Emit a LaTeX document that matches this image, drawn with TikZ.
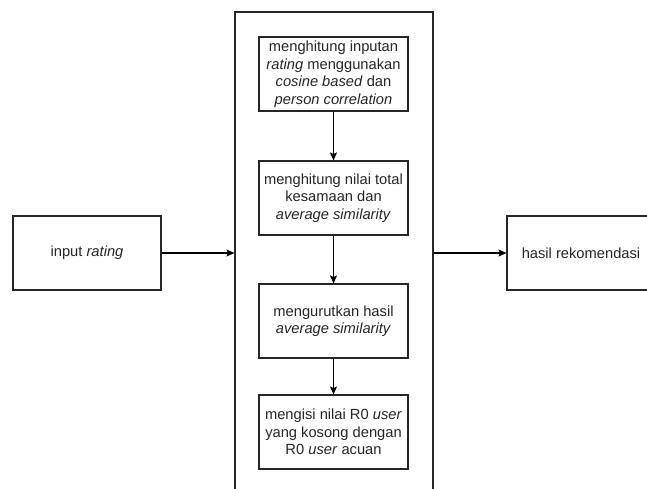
\documentclass[tikz,border=0pt]{standalone}
\usepackage{fontspec}
\setmainfont{Liberation Sans}
\usetikzlibrary{arrows.meta}
\begin{document}
\begin{tikzpicture}[x=1pt,y=-1pt,
  txt/.style={font=\fontsize{14.7}{17.5}\selectfont, text=black!85},
  box/.style={draw=black!85, line width=1.1pt, fill=white, rectangle, align=center, inner sep=1pt, txt},
  conn/.style={draw=black, line width=1.2pt, -{Stealth[length=8pt,width=7pt,inset=1.5pt]}}]
\path[use as bounding box, clip] (0,0) rectangle (647,488);
\fill[white] (0,0) rectangle (647,488);
% big container
\node[box, minimum width=198pt, minimum height=498pt] (big) at (334,261) {};
% inner steps
\node[box, minimum width=149pt, minimum height=74pt] (s1) at (333.5,74)
  {menghitung inputan\\\textit{rating} menggunakan\\\textit{cosine based} dan\\\textit{person correlation}};
\node[box, minimum width=149pt, minimum height=74pt] (s2) at (333.5,198)
  {menghitung nilai total\\kesamaan dan\\\textit{average similarity}};
\node[box, minimum width=149pt, minimum height=74pt] (s3) at (333.5,321)
  {mengurutkan hasil\\\textit{average similarity}};
\node[box, minimum width=149pt, minimum height=74pt] (s4) at (333.5,432)
  {mengisi nilai R0 \textit{user}\\yang kosong dengan\\R0 \textit{user} acuan};
% input / output
\node[box, minimum width=148pt, minimum height=74pt] (in) at (87,253) {input \textit{rating}};
\node[box, minimum width=148pt, minimum height=74pt] (out) at (581,253) {hasil rekomendasi};
% connectors
\draw[conn] (s1) -- (s2);
\draw[conn] (s2) -- (s3);
\draw[conn] (s3) -- (s4);
\draw[conn] (in.east) -- (in.east -| big.west);
\draw[conn] (in.east -| big.east) -- (out.west);
\end{tikzpicture}
\end{document}
